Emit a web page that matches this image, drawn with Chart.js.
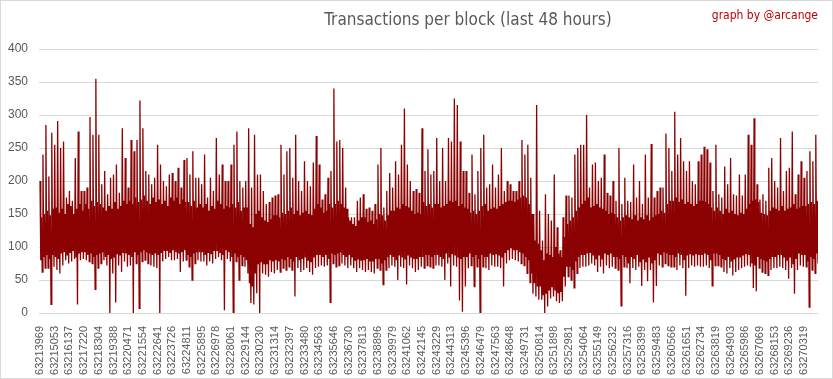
<!DOCTYPE html>
<html>
<head>
<meta charset="utf-8">
<title>Transactions per block</title>
<script src="https://cdn.jsdelivr.net/npm/chart.js@4.4.1/dist/chart.umd.min.js"></script>
<style>
    html, body { margin: 0; padding: 0; background: #ffffff; }
    canvas { display: block; }
</style>
</head>
<body>
<canvas id="chart" width="833" height="379"></canvas>
<script>
    'use strict';

    var chartTitle = 'Transactions per block (last 48 hours)';
    var credit = 'graph by @arcange';

    // block numbers printed under the x axis (one every ~1083 blocks)
    var tickLabels = [
        '63213969', '63215053', '63216137', '63217220', '63218304', '63219388', '63220471',
        '63221554', '63222641', '63223726', '63224811', '63225895', '63226978', '63228061',
        '63229144', '63230230', '63231314', '63232397', '63233480', '63234563', '63235646',
        '63236730', '63237813', '63238896', '63239979', '63241062', '63242145', '63243229',
        '63244313', '63245396', '63246479', '63247563', '63248648', '63249731', '63250814',
        '63251898', '63252981', '63254064', '63255149', '63256232', '63257316', '63258399',
        '63259483', '63260566', '63261651', '63262734', '63263819', '63264903', '63265986',
        '63267069', '63268153', '63269236', '63270319'
    ];

    var yTicks = [0, 50, 100, 150, 200, 250, 300, 350, 400];

    // peaks, 5 slices per label interval
    var peaks = [
        200, 240, 285, 207, 273,   255, 291, 250, 260, 175,   185, 170, 235, 275, 185,
        185, 190, 297, 270, 355,   270, 195, 215, 180, 205,   210, 225, 182, 280, 235,
        190, 262, 245, 262, 322,   280, 215, 210, 195, 205,   255, 225, 200, 192, 210,
        212, 200, 220, 190, 232,   235, 210, 245, 205, 205,   195, 240, 175, 205, 185,
        265, 210, 225, 200, 200,   225, 255, 275, 200, 190,   200, 280, 190, 270, 210,
        210, 185, 165, 168, 175,   178, 180, 255, 210, 245,   250, 205, 270, 200, 185,
        230, 200, 192, 228, 268,   225, 172, 180, 205, 215,   340, 260, 262, 250, 190,
        145, 145, 145, 170, 175,   180, 158, 160, 155, 165,   225, 250, 160, 185, 212,
        190, 230, 210, 255, 310,   225, 200, 185, 188, 182,   280, 215, 248, 210, 215,
        265, 200, 250, 200, 265,   260, 325, 315, 260, 215,   215, 182, 240, 180, 215,
        250, 270, 190, 195, 225,   190, 210, 250, 185, 200,   195, 185, 185, 200, 262,
        240, 255, 205, 150, 315,   155, 110, 180, 150, 140,   210, 130, 95, 145, 178,
        178, 175, 240, 250, 255,   255, 300, 190, 225, 228,   200, 205, 240, 182, 178,
        200, 170, 250, 165, 205,   170, 168, 225, 175, 200,   165, 240, 175, 256, 175,
        185, 190, 190, 272, 250,   215, 305, 240, 265, 230,   215, 230, 200, 195, 230,
        240, 252, 248, 228, 185,   255, 180, 175, 222, 195,   235, 180, 178, 210, 178,
        210, 270, 255, 295, 195,   172, 180, 170, 220, 235,   200, 190, 265, 185, 215,
        220, 275, 180, 210, 230,   205, 215, 245, 230, 270
    ];

    // troughs, same slicing
    var troughs = [
        62, 68, 68, 13, 70,   65, 60, 72, 80, 75,   78, 82, 13, 80, 82,
        80, 78, 75, 36, 68,   75, 80, 72, 0, 60,    16, 72, 62, 78, 70,
        72, 0, 75, 7, 78,     80, 75, 72, 70, 68,   0, 78, 82, 85, 80,
        80, 82, 62, 78, 80,   70, 50, 75, 80, 78,   78, 72, 78, 75, 82,
        85, 80, 4, 82, 78,    0, 78, 50, 72, 70,    60, 15, 13, 30, 0,
        60, 58, 55, 62, 60,   65, 62, 68, 65, 70,   65, 25, 68, 62, 65,
        68, 62, 58, 68, 70,   72, 70, 72, 16, 75,   70, 72, 75, 72, 68,
        72, 68, 62, 68, 65,   62, 65, 62, 60, 68,   65, 43, 65, 68, 72,
        70, 50, 70, 68, 43,   72, 68, 62, 65, 70,   68, 72, 70, 68, 72,
        72, 70, 50, 75, 40,   72, 70, 19, 2, 40,    68, 72, 40, 70, 0,
        70, 68, 65, 72, 70,   70, 68, 40, 75, 80,   82, 80, 78, 75, 72,
        60, 46, 29, 25, 20,   20, 0, 10, 22, 25,    18, 15, 18, 40, 55,
        50, 38, 60, 68, 70,   70, 72, 75, 72, 62,   70, 60, 72, 68, 70,
        68, 65, 11, 70, 68,   45, 68, 65, 70, 41,   65, 48, 65, 16, 41,
        72, 70, 75, 72, 70,   70, 65, 72, 68, 26,   68, 72, 70, 72, 70,
        70, 72, 68, 41, 72,   72, 70, 62, 60, 68,   57, 62, 65, 68, 70,
        72, 70, 38, 33, 68,   62, 60, 57, 65, 68,   68, 70, 68, 65, 52,
        68, 29, 65, 72, 70,   70, 9, 65, 60, 75
    ];

    // top of the solid core of the band, same slicing
    var coreTop = [
        145, 150, 155, 148, 158,   160, 152, 158, 150, 165,   162, 150, 158, 165, 155,
        165, 158, 170, 162, 168,   165, 160, 155, 162, 158,   168, 158, 162, 170, 165,
        170, 165, 175, 168, 172,   178, 170, 165, 175, 168,   172, 165, 170, 162, 175,
        170, 175, 165, 172, 168,   168, 162, 170, 160, 165,   160, 165, 155, 162, 158,
        170, 165, 158, 162, 160,   165, 160, 168, 155, 160,   160, 135, 130, 150, 155,
        145, 140, 138, 142, 148,   148, 145, 152, 150, 155,   160, 150, 155, 148, 152,
        155, 150, 148, 158, 165,   160, 152, 155, 165, 160,   165, 170, 165, 160, 158,
        140, 135, 132, 140, 145,   145, 138, 140, 135, 142,   150, 148, 140, 148, 155,
        155, 160, 158, 165, 162,   160, 155, 150, 152, 150,   168, 162, 165, 160, 165,
        165, 160, 162, 165, 170,   168, 170, 162, 165, 160,   158, 152, 155, 150, 155,
        162, 165, 155, 158, 160,   158, 162, 165, 168, 170,   170, 168, 172, 175, 178,
        175, 165, 150, 110, 105,   95, 80, 90, 88, 85,        100, 90, 85, 115, 135,
        140, 145, 155, 160, 165,   170, 175, 160, 162, 165,   160, 158, 155, 150, 152,
        150, 145, 140, 145, 148,   145, 142, 148, 140, 145,   142, 148, 140, 145, 148,
        150, 155, 152, 165, 170,   170, 175, 168, 172, 165,   168, 165, 162, 165, 170,
        170, 168, 165, 160, 155,   160, 155, 150, 158, 152,   155, 150, 148, 152, 150,
        158, 165, 170, 172, 168,   152, 150, 148, 155, 160,   158, 155, 162, 155, 158,
        160, 165, 158, 160, 162,   162, 165, 168, 165, 170
    ];

    // bottom of the solid core, same slicing
    var coreBottom = [
        80, 85, 88, 82, 88,   85, 82, 90, 92, 88,   92, 95, 85, 90, 92,
        92, 88, 90, 85, 88,   90, 92, 85, 88, 82,   85, 90, 88, 92, 90,
        88, 85, 92, 88, 92,   95, 92, 90, 88, 90,   88, 92, 95, 95, 92,
        95, 92, 90, 92, 95,   88, 85, 90, 92, 92,   92, 88, 92, 90, 95,
        95, 92, 88, 95, 92,   85, 90, 85, 88, 85,   80, 45, 40, 60, 75,
        78, 75, 75, 80, 78,   80, 78, 82, 80, 85,   82, 78, 85, 80, 82,
        85, 80, 78, 85, 88,   88, 85, 88, 82, 90,   88, 90, 92, 88, 85,
        88, 85, 80, 82, 80,   80, 82, 78, 78, 82,   82, 75, 80, 85, 88,
        85, 80, 88, 85, 82,   88, 85, 82, 82, 85,   85, 88, 88, 85, 88,
        88, 85, 82, 90, 85,   90, 88, 85, 82, 85,   85, 90, 85, 88, 82,
        88, 85, 85, 90, 88,   90, 88, 85, 92, 95,   98, 95, 95, 92, 90,
        85, 80, 60, 45, 40,   40, 28, 30, 35, 40,   35, 30, 32, 55, 70,
        70, 65, 78, 85, 88,   88, 90, 92, 88, 82,   88, 82, 90, 88, 90,
        85, 85, 82, 88, 85,   75, 85, 82, 88, 78,   82, 78, 85, 75, 80,
        90, 88, 92, 90, 88,   88, 85, 90, 88, 80,   88, 90, 88, 90, 88,
        88, 90, 88, 80, 90,   90, 88, 82, 80, 85,   78, 82, 85, 85, 88,
        90, 88, 75, 72, 85,   82, 80, 78, 82, 85,   85, 88, 88, 85, 80,
        85, 75, 82, 90, 88,   88, 78, 85, 82, 90
    ];

    var SLICES = 5;

    function buildSeries() {
        var points = [];
        var step = 1 / (SLICES * 4);

        peaks.forEach(function (peak, i) {
            [peak, coreBottom[i], coreTop[i], troughs[i]].forEach(function (v, j) {
                points.push({ x: (i * 4 + j) * step, y: v });
            });
        });

        return points;
    }

    var frame = {
        id: 'frame',
        beforeDraw: function (chart) {
            var ctx = chart.ctx;
            ctx.save();
            ctx.fillStyle = '#ffffff';
            ctx.fillRect(0, 0, chart.width, chart.height);
            ctx.restore();
        },
        afterDraw: function (chart) {
            var ctx = chart.ctx;
            ctx.save();
            ctx.strokeStyle = '#d9d9d9';
            ctx.lineWidth = 1;
            ctx.strokeRect(0.5, 0.5, chart.width - 1, chart.height - 1);

            ctx.textBaseline = 'middle';
            ctx.textAlign = 'center';
            ctx.fillStyle = '#595959';
            ctx.font = "17px 'Liberation Sans Narrow', 'DejaVu Sans Condensed', sans-serif";
            ctx.fillText(chartTitle, 468, 21);

            ctx.textAlign = 'right';
            ctx.fillStyle = '#c00000';
            ctx.font = "12px 'Liberation Sans Narrow', 'DejaVu Sans Condensed', sans-serif";
            ctx.fillText(credit, 818, 16);
            ctx.restore();
        }
    };

    new Chart(document.getElementById('chart'), {
        type: 'line',
        data: {
            datasets: [{
                label: 'Transactions',
                data: buildSeries(),
                borderColor: '#8b0000',
                borderWidth: 1.3,
                pointRadius: 0,
                tension: 0,
                fill: false
            }]
        },
        options: {
            responsive: false,
            animation: false,
            layout: { padding: { top: 49, right: 15, left: 0, bottom: 0 } },
            plugins: {
                legend: { display: false },
                tooltip: { enabled: false }
            },
            scales: {
                x: {
                    type: 'linear',
                    min: -0.07,
                    max: 52.95,
                    grid: { display: false },
                    border: { display: false },
                    afterBuildTicks: function (scale) {
                        scale.ticks = tickLabels.map(function (t, k) {
                            return { value: k };
                        });
                    },
                    afterFit: function (scale) {
                        scale.height = 66;
                    },
                    ticks: {
                        autoSkip: false,
                        minRotation: 90,
                        maxRotation: 90,
                        padding: 5,
                        color: '#595959',
                        font: { family: "'Liberation Sans', Arial, sans-serif", size: 11 },
                        callback: function (value, index) {
                            return tickLabels[index];
                        }
                    }
                },
                y: {
                    min: 0,
                    max: 400,
                    afterBuildTicks: function (scale) {
                        scale.ticks = yTicks.map(function (v) {
                            return { value: v };
                        });
                    },
                    afterFit: function (scale) {
                        scale.width = 39;
                    },
                    grid: { color: '#d9d9d9', lineWidth: 1, drawTicks: false },
                    border: { display: false },
                    ticks: {
                        padding: 11,
                        color: '#595959',
                        font: { family: "'Liberation Sans', Arial, sans-serif", size: 12 }
                    }
                }
            }
        },
        plugins: [frame]
    });
</script>
</body>
</html>
